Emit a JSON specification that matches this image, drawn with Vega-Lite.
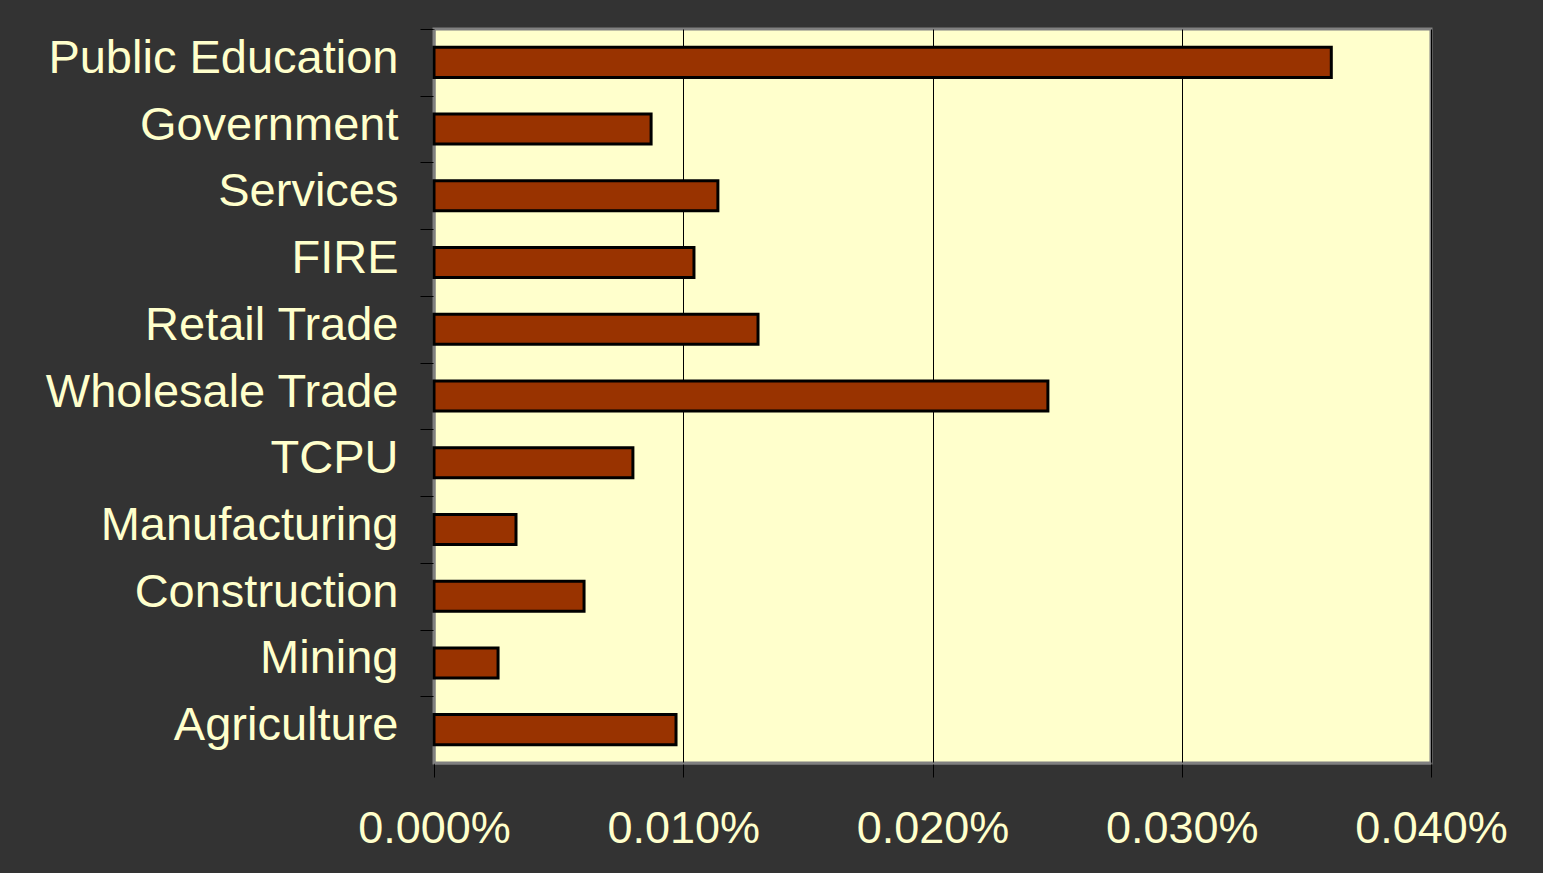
{
  "$schema": "https://vega.github.io/schema/vega-lite/v6.json",
  "width": 997,
  "height": 734,
  "autosize": {"type": "none"},
  "padding": {"left": 434, "top": 29, "right": 112, "bottom": 110},
  "background": "#333333",
  "config": {
    "view": {"fill": "#FFFFCC", "stroke": "#808080", "strokeWidth": 3},
    "font": "Liberation Sans"
  },
  "data": {
    "values": [
      {"sector": "Public Education", "value": 0.000360},
      {"sector": "Government", "value": 0.0000871},
      {"sector": "Services", "value": 0.0001139},
      {"sector": "FIRE", "value": 0.0001043},
      {"sector": "Retail Trade", "value": 0.0001300},
      {"sector": "Wholesale Trade", "value": 0.0002463},
      {"sector": "TCPU", "value": 0.0000798},
      {"sector": "Manufacturing", "value": 0.0000329},
      {"sector": "Construction", "value": 0.0000602},
      {"sector": "Mining", "value": 0.0000257},
      {"sector": "Agriculture", "value": 0.0000971}
    ]
  },
  "mark": {"type": "bar", "color": "#993300", "stroke": "#000000", "strokeWidth": 3},
  "encoding": {
    "y": {
      "field": "sector",
      "type": "nominal",
      "sort": null,
      "title": null,
      "scale": {"paddingInner": 0.55, "paddingOuter": 0.275},
      "axis": {
        "tickOffset": -33.4,
        "tickSize": 14,
        "tickColor": "#000000",
        "tickWidth": 1,
        "domainColor": "#808080",
        "domainWidth": 2,
        "labelFontSize": 47,
        "labelColor": "#FFFFCC",
        "labelPadding": 22,
        "labelOffset": 29.4,
        "labelLimit": 500,
        "grid": false
      }
    },
    "x": {
      "field": "value",
      "type": "quantitative",
      "title": null,
      "scale": {"domain": [0, 0.0004], "nice": false},
      "axis": {
        "values": [0, 0.0001, 0.0002, 0.0003, 0.0004],
        "format": ".3%",
        "grid": true,
        "gridColor": "#000000",
        "gridWidth": 1,
        "tickSize": 14,
        "tickColor": "#000000",
        "tickWidth": 1,
        "domainColor": "#808080",
        "domainWidth": 2,
        "labelFontSize": 45,
        "labelColor": "#FFFFCC",
        "labelPadding": 29,
        "labelFlush": false,
        "labelOverlap": false
      }
    }
  }
}
